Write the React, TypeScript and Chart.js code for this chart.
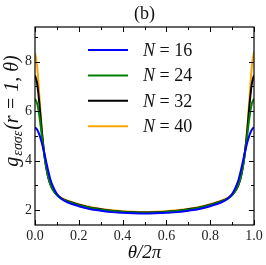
import React, { useEffect, useRef } from "react";
import { Chart, registerables } from "chart.js";

Chart.register(...registerables);

const THETA = [0, 0.01, 0.02, 0.03, 0.04, 0.05, 0.06, 0.07, 0.08, 0.1, 0.12, 0.15, 0.2, 0.25, 0.3, 0.35, 0.4, 0.45, 0.5,
  0.55, 0.6, 0.65, 0.7, 0.75, 0.8, 0.85, 0.88, 0.9, 0.92, 0.93, 0.94, 0.95, 0.96, 0.97, 0.98, 0.99, 1.0];

const N16 = [5.35, 5.25, 5.05, 4.75, 4.4, 4.0, 3.6, 3.25, 3.0, 2.65, 2.46, 2.31, 2.16, 2.05, 1.98, 1.92, 1.89, 1.87, 1.86,
  1.87, 1.89, 1.92, 1.98, 2.05, 2.16, 2.31, 2.46, 2.65, 3.0, 3.25, 3.6, 4.0, 4.4, 4.75, 5.05, 5.25, 5.35];
const N24 = [6.5, 6.3, 5.8, 5.1, 4.4, 3.8, 3.35, 3.05, 2.85, 2.6, 2.47, 2.35, 2.2, 2.1, 2.02, 1.97, 1.93, 1.91, 1.9,
  1.91, 1.93, 1.97, 2.02, 2.1, 2.2, 2.35, 2.47, 2.6, 2.85, 3.05, 3.35, 3.8, 4.4, 5.1, 5.8, 6.3, 6.5];
const N32 = [7.45, 7.1, 6.3, 5.3, 4.45, 3.8, 3.35, 3.05, 2.85, 2.62, 2.48, 2.36, 2.22, 2.11, 2.04, 1.98, 1.94, 1.92, 1.91,
  1.92, 1.94, 1.98, 2.04, 2.11, 2.22, 2.36, 2.48, 2.62, 2.85, 3.05, 3.35, 3.8, 4.45, 5.3, 6.3, 7.1, 7.45];
const N40 = [8.35, 7.8, 6.6, 5.4, 4.45, 3.8, 3.35, 3.05, 2.87, 2.63, 2.5, 2.38, 2.24, 2.13, 2.05, 2.0, 1.96, 1.94, 1.93,
  1.94, 1.96, 2.0, 2.05, 2.13, 2.24, 2.38, 2.5, 2.63, 2.87, 3.05, 3.35, 3.8, 4.45, 5.4, 6.6, 7.8, 8.4];

const SERIES_LABELS = ["N = 16", "N = 24", "N = 32", "N = 40"];
const SERIES_COLORS = ["#0000ff", "#008000", "#000000", "#ffa500"];
const SERIES = [N16, N24, N32, N40];

const X_MAJOR = [0, 0.2, 0.4, 0.6, 0.8, 1.0];
const X_MINOR = [0.1, 0.3, 0.5, 0.7, 0.9];
const Y_MAJOR = [2, 4, 6, 8];
const Y_MINOR = [3, 5, 7, 9];

const TITLE = "(b)";
const X_TITLE = "θ/2π";
const Y_TITLE_MAIN = "g";
const Y_TITLE_SUB = "εσσε";
const Y_TITLE_REST = "(r = 1, θ)";

const SERIF = "'Liberation Serif', 'DejaVu Serif', serif";

const decor = {
  id: "decor",
  afterDatasetsDraw(chart: any) {
    const { ctx, chartArea: a, scales } = chart;
    const xs = scales.x, ys = scales.y;
    ctx.save();
    ctx.strokeStyle = "#000";
    ctx.lineWidth = 1.2;
    ctx.strokeRect(a.left, a.top, a.right - a.left, a.bottom - a.top);
    ctx.lineWidth = 1;
    const tick = (px: number, py: number, dx: number, dy: number) => {
      ctx.beginPath();
      ctx.moveTo(px, py);
      ctx.lineTo(px + dx, py + dy);
      ctx.stroke();
    };
    X_MAJOR.forEach((v) => { const p = Math.round(xs.getPixelForValue(v)) + 0.5; tick(p, a.bottom, 0, -5); tick(p, a.top, 0, 5); });
    X_MINOR.forEach((v) => { const p = Math.round(xs.getPixelForValue(v)) + 0.5; tick(p, a.bottom, 0, -3); tick(p, a.top, 0, 3); });
    Y_MAJOR.forEach((v) => { const p = Math.round(ys.getPixelForValue(v)) + 0.5; tick(a.left, p, 5, 0); tick(a.right, p, -5, 0); });
    Y_MINOR.forEach((v) => { const p = Math.round(ys.getPixelForValue(v)) + 0.5; tick(a.left, p, 3, 0); tick(a.right, p, -3, 0); });

    // legend
    chart.data.datasets.forEach((ds: any, i: number) => {
      const yy = a.top + 23 + i * 25.4;
      ctx.strokeStyle = ds.borderColor;
      ctx.lineWidth = 2;
      ctx.beginPath();
      ctx.moveTo(a.left + 53, yy);
      ctx.lineTo(a.left + 93, yy);
      ctx.stroke();
      ctx.fillStyle = "#111";
      ctx.textBaseline = "alphabetic";
      ctx.textAlign = "left";
      const parts = ds.label.split(" = ");
      ctx.font = `italic 18px ${SERIF}`;
      let x0 = a.left + 108;
      ctx.fillText(parts[0], x0, yy + 6);
      x0 += ctx.measureText(parts[0]).width;
      ctx.font = `18px ${SERIF}`;
      ctx.fillText(" = " + parts[1], x0, yy + 6);
    });

    // title
    ctx.fillStyle = "#111";
    ctx.font = `18px ${SERIF}`;
    ctx.textAlign = "center";
    ctx.fillText(TITLE, (a.left + a.right) / 2, 19);

    // x title
    ctx.font = `italic 19px ${SERIF}`;
    ctx.fillText(X_TITLE, (a.left + a.right) / 2, 258);

    // y title
    ctx.save();
    ctx.textAlign = "left";
    const mainFont = `italic 20px ${SERIF}`;
    const subFont = `italic 14px ${SERIF}`;
    ctx.font = mainFont;
    const w1 = ctx.measureText(Y_TITLE_MAIN).width + 1;
    const w3 = ctx.measureText(Y_TITLE_REST).width;
    ctx.font = subFont;
    const w2 = ctx.measureText(Y_TITLE_SUB).width + 1;
    const total = w1 + w2 + w3;
    ctx.translate(18, 111 + total / 2);
    ctx.rotate(-Math.PI / 2);
    let xx = 0;
    ctx.font = mainFont;
    ctx.fillText(Y_TITLE_MAIN, xx, 0);
    xx += w1;
    ctx.font = subFont;
    ctx.fillText(Y_TITLE_SUB, xx, 4);
    xx += w2;
    ctx.font = mainFont;
    ctx.fillText(Y_TITLE_REST, xx, 0);
    ctx.restore();
    ctx.restore();
  },
};

export default function App() {
  const ref = useRef<HTMLCanvasElement | null>(null);
  useEffect(() => {
    document.body.style.margin = "0";
    const canvas = ref.current;
    if (!canvas) return;
    const chart = new Chart(canvas, {
      type: "line",
      data: {
        datasets: SERIES.map((s, i) => ({
          label: SERIES_LABELS[i],
          data: THETA.map((t, j) => ({ x: t, y: s[j] })),
          borderColor: SERIES_COLORS[i],
          backgroundColor: SERIES_COLORS[i],
          borderWidth: 2,
          pointRadius: 0,
          cubicInterpolationMode: "monotone" as const,
          fill: false,
        })),
      },
      options: {
        animation: false,
        responsive: false,
        devicePixelRatio: 1,
        layout: { padding: { top: 27, right: 12, left: 0, bottom: 0 } },
        plugins: { legend: { display: false }, title: { display: false }, tooltip: { enabled: false } },
        scales: {
          x: {
            type: "linear",
            min: 0,
            max: 1,
            grid: { display: false, drawTicks: false },
            border: { display: false },
            ticks: {
              padding: 3,
              maxRotation: 0,
              autoSkip: false,
              color: "#222",
              font: { family: SERIF, size: 14 },
              callback: (v: any) => Number(v).toFixed(1),
            },
            afterBuildTicks: (s: any) => { s.ticks = X_MAJOR.map((v) => ({ value: v })); },
            afterFit: (s: any) => { s.height = 40; },
          },
          y: {
            type: "linear",
            min: 1.4,
            max: 9.4,
            grid: { display: false, drawTicks: false },
            border: { display: false },
            ticks: {
              padding: 3,
              autoSkip: false,
              color: "#222",
              font: { family: SERIF, size: 14 },
              callback: (v: any) => String(v),
            },
            afterBuildTicks: (s: any) => { s.ticks = Y_MAJOR.map((v) => ({ value: v })); },
            afterFit: (s: any) => { s.width = 35; },
          },
        },
      },
      plugins: [decor],
    });
    return () => chart.destroy();
  }, []);
  return (
    <div style={{ width: 266, height: 265 }}>
      <canvas ref={ref} width={266} height={265} />
    </div>
  );
}
